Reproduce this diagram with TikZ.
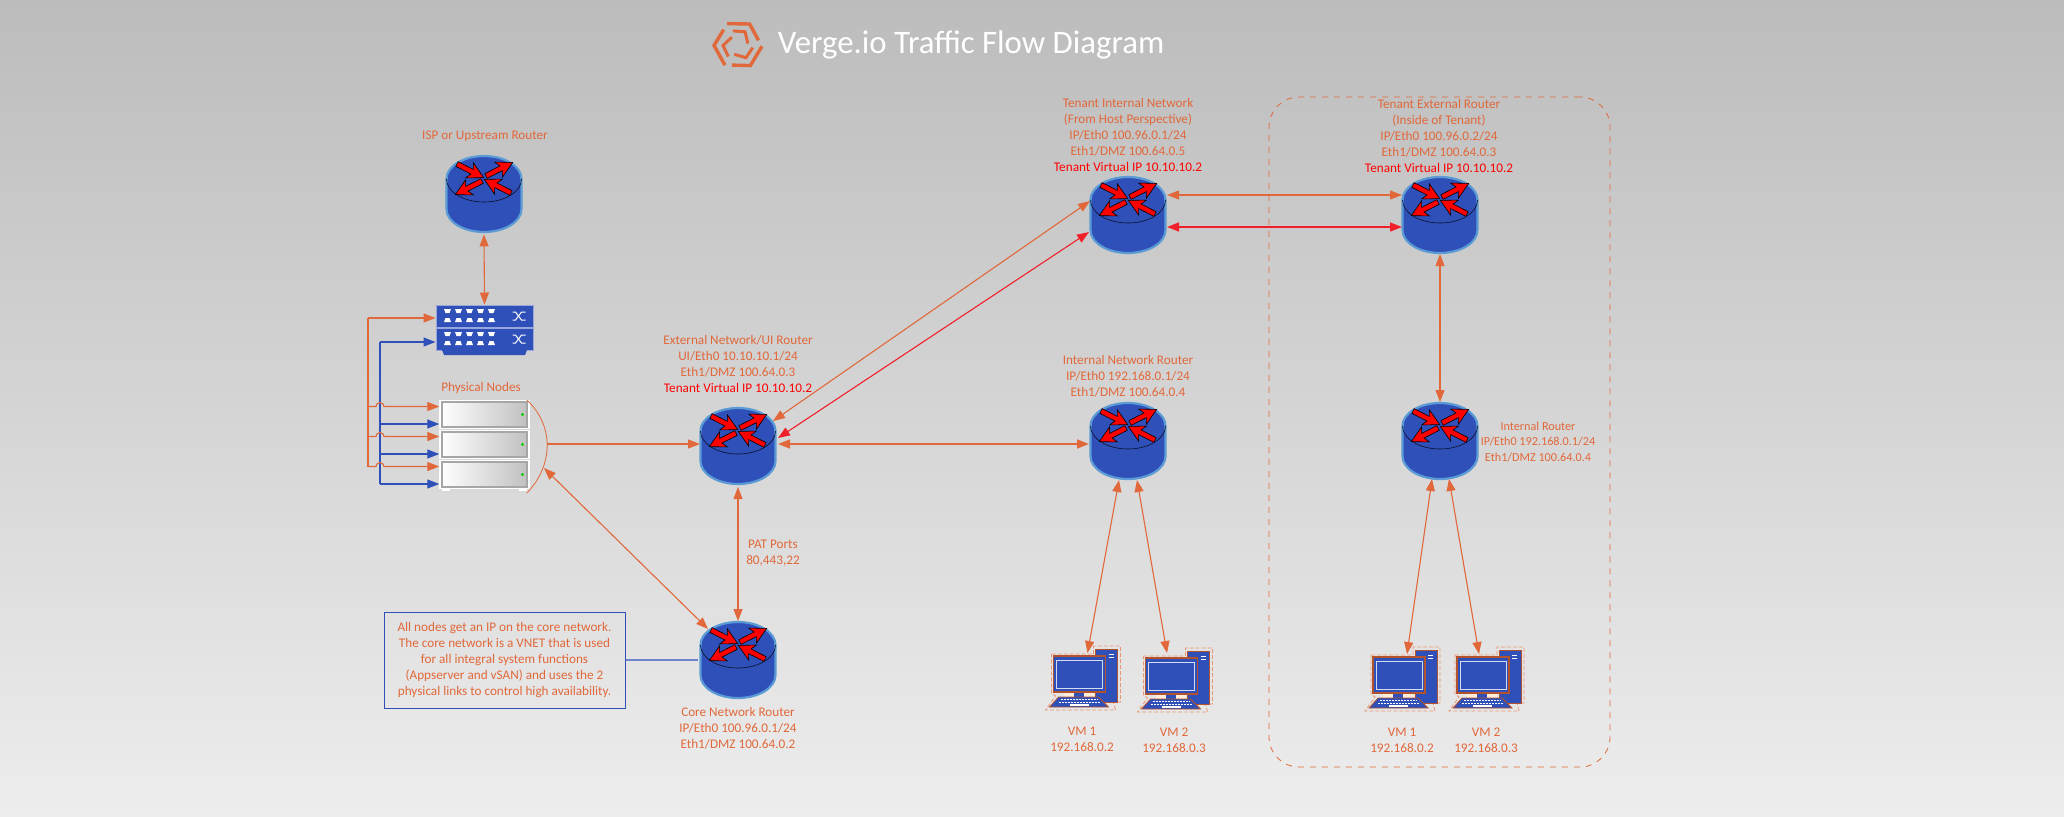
\documentclass[tikz,border=0pt]{standalone}
\usepackage{fontspec}
\setmainfont{Carlito}
\usetikzlibrary{
		arrows.meta,
		calc
	}
\definecolor{bgtop}{HTML}{BCBCBC}
\definecolor{bgbottom}{HTML}{EDEDED}
\definecolor{netorange}{HTML}{E0683A}
\definecolor{netblue}{HTML}{2F4FB9}
\definecolor{rimblue}{HTML}{5B9BD5}
\definecolor{linkred}{HTML}{F0202A}

% one of the four red arrows on top of a router: tail x, tail y, angle
\newcommand{\routerarrow}[3]{
    \filldraw[fill=red, draw=black, line width=0.3pt]
        ($(#1,#2)+(#3+90:2.6)$) -- ($(#1,#2)+(#3:17)+(#3+90:2.6)$) -- ($(#1,#2)+(#3:14)+(#3+90:8.5)$)
        -- ($(#1,#2)+(#3:30)$)
        -- ($(#1,#2)+(#3:14)+(#3-90:8.5)$) -- ($(#1,#2)+(#3:17)+(#3-90:2.6)$) -- ($(#1,#2)+(#3-90:2.6)$) -- cycle;
}
\newcommand{\routericon}{
    \filldraw[fill=netblue, draw=rimblue, line width=1.1pt]
        (-37.5,-15) arc (180:360:37.5 and 23) -- (37.5,15) arc (0:180:37.5 and 23) -- cycle;
    \draw[black!80!netblue, line width=0.3pt] (-37.5,-15) arc (180:0:37.5 and 23);
    \routerarrow{-27}{-30}{27}
    \routerarrow{2}{-18}{-27}
    \routerarrow{-2}{-13}{153}
    \routerarrow{27}{-1}{207}
}
% ports and shuffle mark of one switch
\newcommand{\switchicon}{
    \foreach \px in {-37,-26,-15,-4,7} {
        \fill[white] (\px-3.5,-7) -- (\px+3.5,-7) -- (\px+2,-3) -- (\px-2,-3) -- cycle;
        \fill[white] (\px-2,2) -- (\px+2,2) -- (\px+3.5,6) -- (\px-3.5,6) -- cycle;
    }
    \draw[white, line width=0.5pt] (28,-4) -- (31,-4) -- (37,4) -- (41,4);
    \draw[white, line width=0.5pt] (28,4) -- (31,4) -- (37,-4) -- (41,-4);
}
\newcommand{\servericon}{
    \shade[left color=white, right color=black!25] (-42.5,-12.5) rectangle (42.5,12.5);
    \draw[black!35, line width=0.7pt] (-42.5,-12.5) rectangle (42.5,12.5);
    \fill[green!80!black] (38,0) circle (1.6);
}
\newcommand{\vmicon}{
    % dashed outline round the computer
    \draw[netorange!70, dash pattern=on 2pt off 1pt, line width=0.4pt]
        (-31,-25) -- (11,-25) -- (11,-33) -- (38,-33) -- (38,23) -- (31,23) -- (33,31)
        -- (-37,31) -- (-27,17) -- (-31,14) -- cycle;
    % tower
    \filldraw[fill=netblue, draw=netorange!80!black, line width=0.5pt] (13,-30) rectangle (35,23);
    \draw[white, line width=0.5pt] (26,-25) -- (31,-25) (26,-22) -- (31,-22);
    % monitor
    \fill[orange!15] (-19,13) rectangle (11,18);
    \fill[netblue] (-9,13) rectangle (1,18);
    \filldraw[fill=netblue, draw=netorange!80!black, line width=0.6pt] (-29,-23) rectangle (23,13);
    \draw[white!80!netblue, line width=0.5pt] (-26,-19) rectangle (20,9);
    % keyboard
    \filldraw[fill=netblue, draw=netorange!80!black, line width=0.4pt]
        (-24,18) -- (16,18) -- (26,28) -- (-33,28) -- cycle;
    \draw[white, dash pattern=on 1pt off 0.5pt, line width=0.5pt] (-22,20.5) -- (15,20.5) (-24,23) -- (18,23);
    \draw[white, line width=0.6pt] (-13,26) -- (6,26);
}
\newcommand{\logoicon}{
    \foreach \ang in {0,120,240} {
        \draw[netorange, line width=1.7pt] (\ang+243:24) -- (\ang+299:24) -- (\ang+347:21);
        \draw[netorange, line width=1.5pt] (\ang+250:15) -- (\ang+298:15) -- (\ang+352:10);
    }
}

\tikzset{
		>={Triangle[length=6pt,width=4.5pt]},
		router/.style={minimum size=40pt, inner sep=0pt, path picture={\routericon}},
		switchbox/.style={draw=white!50!netblue, fill=netblue, line width=0.5pt, minimum width=48.5pt, minimum height=11pt, inner sep=0pt, path picture={\switchicon}},
		serverbox/.style={draw=white, line width=0.7pt, minimum width=44.5pt, minimum height=14pt, inner sep=0pt, path picture={\servericon}},
		vmbox/.style={minimum width=40pt, minimum height=34pt, inner sep=0pt, path picture={\vmicon}},
		logobox/.style={minimum size=28pt, inner sep=0pt, path picture={\logoicon}},
		lbl/.style={text=netorange, align=center, inner sep=0pt, font=\fontsize{6.6}{8}\selectfont},
		oline/.style={draw=netorange, line width=0.55pt},
		bline/.style={draw=netblue, line width=0.55pt},
		rline/.style={draw=linkred, line width=0.55pt}
	}

\begin{document}
\begin{tikzpicture}[x=0.5pt, y=-0.5pt]
    \useasboundingbox (0,0) rectangle (2064,816);
    \fill[top color=bgtop, bottom color=bgbottom] (0,0) rectangle (2064,816);

    % the title
    \node[logobox] (logo) at (738,45) {};
    \node[text=white, inner sep=0pt, font=\fontsize{16.4}{18}\selectfont] (title) at (971,45) {Verge.io Traffic Flow Diagram};

    % the dashed box of the tenant
    \node[draw=netorange, dashed, line width=0.4pt, rounded corners=15pt, minimum width=170.5pt, minimum height=335pt] (tenant) at (1439.5,432) {};

    % the routers
    \node[router] (isp) at (484,194) {};
    \node[router] (ext) at (738,446) {};
    \node[router] (core) at (738,660) {};
    \node[router] (tint) at (1128,215) {};
    \node[router] (intnet) at (1128,441) {};
    \node[router] (text) at (1440,215) {};
    \node[router] (tenrt) at (1440,441) {};

    % the switches and the physical nodes
    \node[switchbox] (sw1) at (484.5,316) {};
    \node[switchbox] (sw2) at (484.5,339) {};
    \fill[netblue] (442,350) -- (527,350) -- (525,355) -- (444,355) -- cycle;
    \node[serverbox] (srv1) at (484.5,414.5) {};
    \node[serverbox] (srv2) at (484.5,444.5) {};
    \node[serverbox] (srv3) at (484.5,474.5) {};
    \fill[white] ($(srv3.south west)+(3,0)$) rectangle +(8,2);
    \fill[white] ($(srv3.south east)+(-11,0)$) rectangle +(8,2);

    % the computers
    \node[vmbox] (vm1) at (1082.5,679) {};
    \node[vmbox] (vm2) at (1174.5,681) {};
    \node[vmbox] (vm3) at (1402,680) {};
    \node[vmbox] (vm4) at (1486,680) {};

    % the texts
    \node[lbl] (isplbl) at (485,136) {ISP or Upstream Router};
    \node[lbl] (nodelbl) at (481,388) {Physical Nodes};
    \node[lbl] (extlbl) at (738,364) {External Network/UI Router\\UI/Eth0 10.10.10.1/24\\Eth1/DMZ 100.64.0.3\\\textcolor{red}{Tenant Virtual IP 10.10.10.2}};
    \node[lbl] (patlbl) at (773,553) {PAT Ports\\80,443,22};
    \node[lbl] (corelbl) at (738,728) {Core Network Router\\IP/Eth0 100.96.0.1/24\\Eth1/DMZ 100.64.0.2};
    \node[lbl] (tintlbl) at (1128,135) {Tenant Internal Network\\(From Host Perspective)\\IP/Eth0 100.96.0.1/24\\Eth1/DMZ 100.64.0.5\\\textcolor{red}{Tenant Virtual IP 10.10.10.2}};
    \node[lbl] (intlbl) at (1128,376) {Internal Network Router\\IP/Eth0 192.168.0.1/24\\Eth1/DMZ 100.64.0.4};
    \node[lbl] (textlbl) at (1439,136) {Tenant External Router\\(Inside of Tenant)\\IP/Eth0 100.96.0.2/24\\Eth1/DMZ 100.64.0.3\\\textcolor{red}{Tenant Virtual IP 10.10.10.2}};
    \node[lbl, font=\fontsize{6.1}{7.8}\selectfont] (tenrtlbl) at (1538,442) {Internal Router\\IP/Eth0 192.168.0.1/24\\Eth1/DMZ 100.64.0.4};
    \node[lbl] (vm1lbl) at (1082,739) {VM 1\\192.168.0.2};
    \node[lbl] (vm2lbl) at (1174,740) {VM 2\\192.168.0.3};
    \node[lbl] (vm3lbl) at (1402,740) {VM 1\\192.168.0.2};
    \node[lbl] (vm4lbl) at (1486,740) {VM 2\\192.168.0.3};
    \node[lbl, draw=netblue, line width=0.5pt, minimum width=120.5pt, minimum height=48pt] (note) at (504.5,660) {All nodes get an IP on the core network.\\The core network is a VNET that is used\\for all integral system functions\\(Appserver and vSAN) and uses the 2\\physical links to control high availability.};

    % the trunks on the left, and the curve in front of the physical nodes
    \coordinate (otrunk) at (368,318);
    \coordinate (btrunk) at (380,342);
    \coordinate (s1o) at ($(srv1.west)+(0,-8)$);
    \coordinate (s2o) at ($(srv2.west)+(0,-8)$);
    \coordinate (s3o) at ($(srv3.west)+(0,-8)$);
    \coordinate (s1b) at ($(srv1.west)+(0,9.5)$);
    \coordinate (s2b) at ($(srv2.west)+(0,9.5)$);
    \coordinate (s3b) at ($(srv3.west)+(0,9.5)$);
    \coordinate (curvemid) at (547,444);
    \coordinate (curvelow) at (544,468);
    \draw[netorange, line width=0.4pt] ($(srv1.north east)+(-3,0)$) .. controls (554,425) and (554,465) .. ($(srv3.south east)+(-3,4)$);

    % draw the arrows
    \draw[oline, <->] (isp.south) -- (sw1.north);
    \draw[oline, ->] (otrunk) -- (sw1.west |- otrunk);
    \draw[bline, ->] (btrunk) -- (sw2.west |- btrunk);
    \draw[bline] (btrunk) -- (btrunk |- s3b);
    \draw[oline] (otrunk) -- (otrunk |- s3o);
    \draw[bline, ->] (btrunk |- s1b) -- (s1b);
    \draw[bline, ->] (btrunk |- s2b) -- (s2b);
    \draw[bline, ->] (btrunk |- s3b) -- (s3b);
    \draw[oline, ->] (otrunk |- s1o) -- ($(btrunk |- s1o)+(-4,0)$) arc (180:360:4) -- (s1o);
    \draw[oline, ->] (otrunk |- s2o) -- ($(btrunk |- s2o)+(-4,0)$) arc (180:360:4) -- (s2o);
    \draw[oline, ->] (otrunk |- s3o) -- ($(btrunk |- s3o)+(-4,0)$) arc (180:360:4) -- (s3o);

    \draw[oline, ->] (curvemid) -- ($(ext)+(-38,-2)$);
    \draw[oline, <->] (curvelow) -- ($(core)+(-30,-31)$);
    \draw[bline, line width=0.7pt, draw=netblue!70] (note.east) -- (core.west);
    \draw[oline, <->] ($(ext)+(0,41)$) -- ($(core)+(0,-39)$);
    \draw[oline, <->, line width=0.8pt] ($(ext)+(40,-2)$) -- ($(intnet)+(-39,3)$);
    \draw[oline, <->] ($(ext)+(35,-25)$) -- ($(tint)+(-38,-14)$);
    \draw[rline, <->] ($(ext)+(40,-8)$) -- ($(tint)+(-39,17)$);
    \draw[oline, <->] ($(tint)+(39,-20)$) -- ($(text)+(-38,-20)$);
    \draw[rline, <->, line width=0.8pt] ($(tint)+(39,12)$) -- ($(text)+(-38,12)$);
    \draw[oline, <->] ($(text)+(0,39)$) -- ($(tenrt)+(0,-39)$);
    \draw[oline, <->] ($(intnet)+(-9,39)$) -- ($(vm1)+(5,-26)$);
    \draw[oline, <->] ($(intnet)+(9,39)$) -- ($(vm2)+(-7.5,-28)$);
    \draw[oline, <->] ($(tenrt)+(-8,38)$) -- ($(vm3)+(5,-26)$);
    \draw[oline, <->] ($(tenrt)+(9,38)$) -- ($(vm4)+(-7,-26)$);
\end{tikzpicture}
\end{document}
